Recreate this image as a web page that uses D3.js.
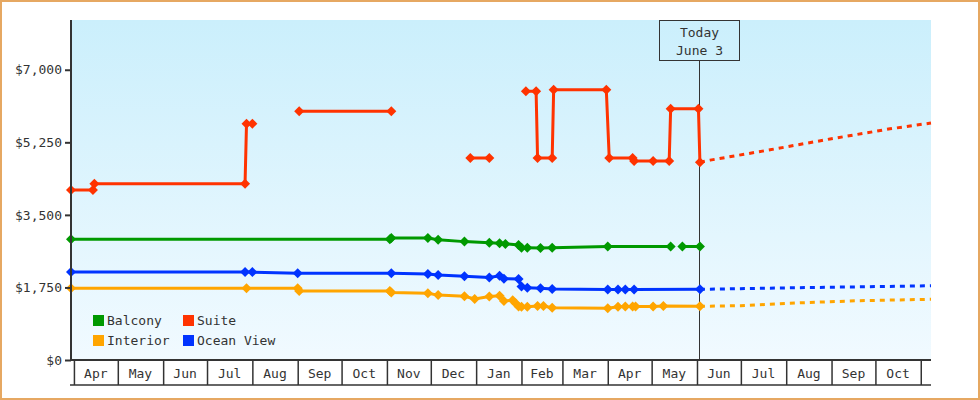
<!DOCTYPE html>
<html>
<head>
<meta charset="utf-8">
<script src="https://cdnjs.cloudflare.com/ajax/libs/d3/7.8.5/d3.min.js"></script>
<style>
  body { margin: 0; background: #fff; }
  svg text { font-family: "DejaVu Sans Mono", monospace; font-size: 13px; fill: #333; }
</style>
</head>
<body>
<svg width="980" height="400"></svg>
<script>
// series names, legend order
const seriesNames = ['Balcony', 'Suite', 'Interior', 'Ocean View'];

// Balcony
const balconyDates = ['2018-03-30','2018-11-03','2018-11-04','2018-11-29','2018-12-06','2018-12-24','2019-01-10',
  '2019-01-17','2019-01-21','2019-01-30','2019-02-01','2019-02-05','2019-02-14','2019-02-22','2019-04-01',
  '2019-05-14','2019-05-18','2019-05-22','2019-06-03'];
const balconyPrices = [2910, 2910, 2940, 2940, 2900, 2855, 2830,
  2815, 2800, 2775, 2710, 2710, 2700, 2710, 2735,
  2735, null, 2735, 2735];

// Suite (null = no price, line breaks)
const suiteDates = ['2018-03-30','2018-04-14','2018-04-15','2018-07-27','2018-07-28','2018-08-01','2018-08-15',
  '2018-09-02','2018-11-04','2018-12-01',
  '2018-12-28','2019-01-10','2019-01-20',
  '2019-02-04','2019-02-11','2019-02-12','2019-02-22','2019-02-23','2019-03-31','2019-04-02','2019-04-18',
  '2019-04-19','2019-05-02','2019-05-13','2019-05-14','2019-06-02','2019-06-03'];
const suitePrices = [4100, 4100, 4250, 4250, 5700, 5700, null,
  6000, 6000, null,
  4870, 4870, null,
  6480, 6480, 4870, 4870, 6520, 6520, 4870, 4870,
  4800, 4800, 4800, 6060, 6060, 4770];

// Interior
const interiorDates = ['2018-03-30','2018-07-28','2018-09-01','2018-09-02','2018-11-03','2018-11-04','2018-11-29',
  '2018-12-06','2018-12-24','2018-12-31','2019-01-10','2019-01-17','2019-01-20','2019-01-26','2019-01-28',
  '2019-01-30','2019-02-01','2019-02-05','2019-02-12','2019-02-16','2019-02-22','2019-04-01','2019-04-08',
  '2019-04-13','2019-04-18','2019-04-20','2019-05-02','2019-05-09','2019-06-03'];
const interiorPrices = [1730, 1730, 1730, 1665, 1665, 1625, 1610,
  1565, 1535, 1470, 1530, 1550, 1425, 1440, 1370,
  1290, 1285, 1285, 1300, 1300, 1260, 1250, 1285,
  1290, 1290, 1290, 1290, 1300, 1295];

// Ocean View
const oceanDates = ['2018-03-30','2018-07-27','2018-08-01','2018-09-01','2018-11-04','2018-11-29','2018-12-06',
  '2018-12-24','2019-01-10','2019-01-17','2019-01-20','2019-01-30','2019-02-01','2019-02-05','2019-02-14',
  '2019-02-22','2019-04-01','2019-04-08','2019-04-13','2019-04-19','2019-06-03'];
const oceanPrices = [2120, 2120, 2120, 2090, 2090, 2075, 2050,
  2020, 1990, 2030, 1960, 1955, 1775, 1740, 1730,
  1710, 1700, 1700, 1700, 1700, 1705];

// projected prices after today
const suiteProjDates = ['2019-06-03','2019-06-10','2019-07-21','2019-08-31','2019-10-11','2019-11-08'];
const suiteProjPrices = [4770, 4820, 5070, 5330, 5575, 5715];
const interiorProjDates = ['2019-06-03','2019-07-01','2019-08-11','2019-09-20','2019-11-08'];
const interiorProjPrices = [1295, 1310, 1380, 1430, 1465];
const oceanProjDates = ['2019-06-03','2019-08-01','2019-10-01','2019-11-08'];
const oceanProjPrices = [1705, 1740, 1770, 1790];

const yTicks = [0, 1750, 3500, 5250, 7000];
const monthStarts = ['2018-04-01','2018-05-01','2018-06-01','2018-07-01','2018-08-01','2018-09-01','2018-10-01',
  '2018-11-01','2018-12-01','2019-01-01','2019-02-01','2019-03-01','2019-04-01','2019-05-01','2019-06-01',
  '2019-07-01','2019-08-01','2019-09-01','2019-10-01','2019-11-01'];
const todayDate = '2019-06-03';
const todayLabel = ['Today', 'June 3'];

const parse = d3.timeParse('%Y-%m-%d');
const svg = d3.select('svg');
const width = +svg.attr('width');
const height = +svg.attr('height');

const plotLeft = 71, plotRight = 931, plotTop = 20, plotBottom = 360;

const x = d3.scaleTime()
  .domain([parse('2018-03-30'), parse('2019-11-08')])
  .range([plotLeft, plotRight]);
const y = d3.scaleLinear()
  .domain([0, 8200])
  .range([plotBottom, plotTop]);

const zip = (ds, vs) => ds.map((d, i) => ({date: parse(d), v: vs[i]}));

const series = [
  {name: 'Balcony', color: '#009900', pts: zip(balconyDates, balconyPrices), proj: null},
  {name: 'Suite', color: '#ff3300', pts: zip(suiteDates, suitePrices), proj: zip(suiteProjDates, suiteProjPrices)},
  {name: 'Interior', color: '#ffa500', pts: zip(interiorDates, interiorPrices), proj: zip(interiorProjDates, interiorProjPrices)},
  {name: 'Ocean View', color: '#0033ff', pts: zip(oceanDates, oceanPrices), proj: zip(oceanProjDates, oceanProjPrices)}
];

// outer frame
svg.append('rect')
  .attr('x', 1).attr('y', 1)
  .attr('width', width - 2).attr('height', height - 2)
  .attr('fill', '#fff')
  .attr('stroke', '#e6a862')
  .attr('stroke-width', 2);

// plot background gradient
const grad = svg.append('defs').append('linearGradient')
  .attr('id', 'bg').attr('x1', 0).attr('y1', 0).attr('x2', 0).attr('y2', 1);
grad.append('stop').attr('offset', '0%').attr('stop-color', '#cbeffc');
grad.append('stop').attr('offset', '100%').attr('stop-color', '#f1faff');

svg.append('rect')
  .attr('x', plotLeft).attr('y', plotTop)
  .attr('width', plotRight - plotLeft).attr('height', plotBottom - plotTop)
  .attr('fill', 'url(#bg)');

// month cells under the plot
const months = monthStarts.map(parse);
const xAxis = d3.axisBottom(x)
  .tickValues(months)
  .tickSize(25)
  .tickFormat('');
const xg = svg.append('g')
  .attr('transform', `translate(0,${plotBottom})`)
  .call(xAxis);
xg.select('.domain').remove();
xg.selectAll('.tick line').attr('stroke', '#333').attr('stroke-width', 1.5);

svg.append('line')
  .attr('x1', plotLeft - 1).attr('x2', plotRight)
  .attr('y1', plotBottom + 25).attr('y2', plotBottom + 25)
  .attr('stroke', '#333').attr('stroke-width', 1.5);

const fmtMonth = d3.timeFormat('%b');
svg.selectAll('.month-label')
  .data(months.filter(m => d3.timeMonth.offset(m, 1) <= x.domain()[1]))
  .enter()
    .append('text')
    .attr('class', 'month-label')
    .attr('x', m => (x(m) + x(d3.timeMonth.offset(m, 1))) / 2)
    .attr('y', plotBottom + 18)
    .attr('text-anchor', 'middle')
    .text(fmtMonth);

// today marker
const today = parse(todayDate);
const tx = Math.round(x(today)) - 0.5;
svg.append('line')
  .attr('x1', tx).attr('x2', tx)
  .attr('y1', plotTop + 40).attr('y2', plotBottom)
  .attr('stroke', '#333').attr('stroke-width', 1);
svg.append('rect')
  .attr('x', tx - 40).attr('y', plotTop + 0.5)
  .attr('width', 80).attr('height', 40)
  .attr('fill', 'none')
  .attr('stroke', '#333').attr('stroke-width', 1);
svg.selectAll('.today-label')
  .data(todayLabel)
  .enter()
    .append('text')
    .attr('x', tx)
    .attr('y', (d, i) => plotTop + 17 + i * 18)
    .attr('text-anchor', 'middle')
    .text(d => d);

// lines
const line = d3.line()
  .defined(d => d.v != null)
  .x(d => x(d.date))
  .y(d => y(d.v));

series.forEach(s => {
  if (s.proj) {
    svg.append('path')
      .datum(s.proj)
      .attr('d', line)
      .attr('fill', 'none')
      .attr('stroke', s.color)
      .attr('stroke-width', 3)
      .attr('stroke-dasharray', '5,5');
  }
});

const diamond = d3.symbol().type(d3.symbolSquare).size(50);

series.forEach(s => {
  svg.append('path')
    .datum(s.pts)
    .attr('d', line)
    .attr('fill', 'none')
    .attr('stroke', s.color)
    .attr('stroke-width', 3);

  svg.selectAll(null)
    .data(s.pts.filter(d => d.v != null))
    .enter()
      .append('path')
      .attr('d', diamond)
      .attr('transform', d => `translate(${x(d.date)},${y(d.v)}) rotate(45)`)
      .attr('fill', s.color);
});

// y axis
const yAxis = d3.axisLeft(y)
  .tickValues(yTicks)
  .tickSize(6)
  .tickFormat(d => '$' + d3.format(',')(d));
const yg = svg.append('g')
  .attr('transform', `translate(${plotLeft},0)`)
  .call(yAxis);
yg.select('.domain').remove();
yg.selectAll('.tick line').attr('stroke', '#333').attr('stroke-width', 2);
yg.selectAll('text').style('font-family', '"DejaVu Sans Mono", monospace').style('font-size', '13px').attr('fill', '#333');

svg.append('line')
  .attr('x1', plotLeft).attr('x2', plotLeft)
  .attr('y1', plotTop).attr('y2', plotBottom + 1)
  .attr('stroke', '#333').attr('stroke-width', 2);
svg.append('line')
  .attr('x1', plotLeft - 1).attr('x2', plotRight)
  .attr('y1', plotBottom).attr('y2', plotBottom)
  .attr('stroke', '#333').attr('stroke-width', 2);

// legend
const colorOf = name => series.find(s => s.name === name).color;
const legend = svg.selectAll('.legend')
  .data(seriesNames)
  .enter()
    .append('g')
    .attr('transform', (d, i) => `translate(${93 + (i % 2) * 90},${315 + Math.floor(i / 2) * 20})`);
legend.append('rect')
  .attr('width', 11).attr('height', 11)
  .attr('fill', d => colorOf(d));
legend.append('text')
  .attr('x', 14).attr('y', 10)
  .text(d => d);
</script>
</body>
</html>
